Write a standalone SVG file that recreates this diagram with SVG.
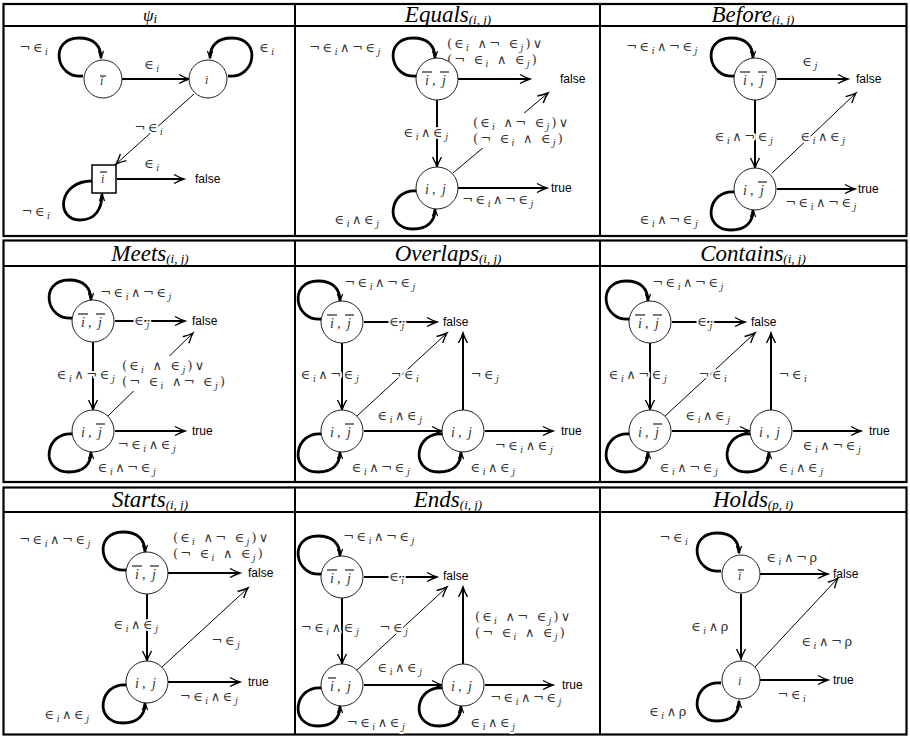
<svg xmlns="http://www.w3.org/2000/svg" xmlns:xlink="http://www.w3.org/1999/xlink" width="910" height="740" viewBox="0 0 910 740">
<style>
.tb{fill:none;stroke:#000;stroke-width:2.2}
.tl{stroke:#000;stroke-width:2}
.nd{fill:#fff;stroke:#222;stroke-width:1}
.e{fill:none;stroke:#000;stroke-width:2;marker-end:url(#ah)}
.et{fill:none;stroke:#000;stroke-width:1;marker-end:url(#ah)}
.lp{fill:none;stroke:#000;stroke-width:2.8;marker-end:url(#ahl)}
.l{font-family:"DejaVu Serif",serif;font-size:13px;fill:#333;stroke:#fff;stroke-width:4;paint-order:stroke;stroke-linejoin:round;text-anchor:middle;letter-spacing:2.5px}
.ls{text-anchor:start;letter-spacing:2.2px;word-spacing:0}
.s{font-style:italic;font-size:9px}
.n{font-family:"Liberation Serif",serif;font-style:italic;font-size:14px;fill:#333}
.ob{stroke:#333;stroke-width:1.3}
.tf{font-family:"Liberation Sans","DejaVu Sans",sans-serif;font-size:12px;fill:#000}
.hd{font-family:"Liberation Serif",serif;font-style:italic;font-size:23px;text-anchor:middle;fill:#000}
.hs{font-size:13px}
.wb{fill:#fff}
</style>
<defs>
<marker id="ah" markerUnits="userSpaceOnUse" viewBox="-11 -5 12 10" refX="0" refY="0" markerWidth="12" markerHeight="10" orient="auto" overflow="visible"><path d="M-10,-4.5 Q-4,-1.2 0,0 Q-4,1.2 -10,4.5" fill="none" stroke="#000" stroke-width="1.4"/></marker>
<marker id="ahl" markerUnits="userSpaceOnUse" viewBox="-8 -4 9 8" refX="0" refY="0" markerWidth="9" markerHeight="8" orient="auto" overflow="visible"><path d="M-7,-2.6 L0,0 L-7,2.6" fill="none" stroke="#000" stroke-width="1.2"/></marker>
<path id="lpT" class="lp" d="M-20,-3 C-48,0 -54,-41 -24,-41 C-9,-41 -2,-33 -2,-21"/>
<path id="lpB" class="lp" d="M-20,3 C-48,0 -54,41 -24,41 C-9,41 -2,33 -2,21"/>
<path id="lpR" class="lp" d="M20,-3 C48,0 54,-41 24,-41 C9,-41 2,-33 2,-21"/>
</defs>

<g id="tables">
<rect class="tb" x="3.5" y="4" width="903" height="232"/>
<line class="tl" x1="3.5" y1="26" x2="906.5" y2="26"/>
<line class="tl" x1="295" y1="4" x2="295" y2="236"/>
<line class="tl" x1="600" y1="4" x2="600" y2="236"/>
<rect class="tb" x="3.5" y="240.5" width="903" height="241.5"/>
<line class="tl" x1="3.5" y1="266" x2="906.5" y2="266"/>
<line class="tl" x1="295" y1="240.5" x2="295" y2="482"/>
<line class="tl" x1="600" y1="240.5" x2="600" y2="482"/>
<rect class="tb" x="3.5" y="487.5" width="903" height="247"/>
<line class="tl" x1="3.5" y1="512" x2="906.5" y2="512"/>
<line class="tl" x1="295" y1="487.5" x2="295" y2="734.5"/>
<line class="tl" x1="600" y1="487.5" x2="600" y2="734.5"/>
<text class="hd" x="150" y="21" style="font-size:17px">ψ<tspan class="hs" dy="2">i</tspan></text>
<text class="hd" x="448" y="22">Equals<tspan class="hs" dy="2">(i, j)</tspan></text>
<text class="hd" x="753" y="22">Before<tspan class="hs" dy="2">(i, j)</tspan></text>
<text class="hd" x="150" y="261">Meets<tspan class="hs" dy="2">(i, j)</tspan></text>
<text class="hd" x="448" y="261">Overlaps<tspan class="hs" dy="2">(i, j)</tspan></text>
<text class="hd" x="753" y="261">Contains<tspan class="hs" dy="2">(i, j)</tspan></text>
<text class="hd" x="150" y="507">Starts<tspan class="hs" dy="2">(i, j)</tspan></text>
<text class="hd" x="448" y="507">Ends<tspan class="hs" dy="2">(i, j)</tspan></text>
<text class="hd" x="753" y="507">Holds<tspan class="hs" dy="2">(p, i)</tspan></text>
</g>

<g id="connectors">
<!-- psi -->
<line class="e" x1="122" y1="79" x2="189" y2="79"/>
<use xlink:href="#lpT" x="103" y="79"/>
<use xlink:href="#lpR" x="208" y="79"/>
<line class="et" x1="194" y1="94" x2="116" y2="164"/>
<line class="e" x1="117" y1="179" x2="184" y2="179"/>
<path class="lp" d="M92,181 C58,181 55,220 80,220 C96,220 102,208 102,194"/>
<text class="l" x="153" y="69">∈<tspan class="s" dy="3">i</tspan></text>
<text class="l" x="35" y="52">¬∈<tspan class="s" dy="3">i</tspan></text>
<text class="l" x="268" y="52">∈<tspan class="s" dy="3">i</tspan></text>
<text class="l" x="150" y="132">¬∈<tspan class="s" dy="3">i</tspan></text>
<text class="l" x="153" y="168">∈<tspan class="s" dy="3">i</tspan></text>
<text class="l" x="37" y="216">¬∈<tspan class="s" dy="3">i</tspan></text>

<!-- equals -->
<use xlink:href="#lpT" x="437" y="79"/>
<line class="e" x1="458" y1="79" x2="530" y2="79"/>
<line class="e" x1="437" y1="100" x2="437" y2="167"/>
<line class="et" x1="453" y1="173" x2="548" y2="93"/>
<line class="e" x1="458" y1="188" x2="547" y2="188"/>
<use xlink:href="#lpB" x="437" y="188"/>
<text class="l" x="346" y="52">¬∈<tspan class="s" dy="3">i</tspan><tspan dy="-3">∧¬∈</tspan><tspan class="s" dy="3">j</tspan></text>
<text class="l ls" x="447" y="48">(∈<tspan class="s" dy="3">i</tspan><tspan dy="-3"> ∧¬ ∈</tspan><tspan class="s" dy="3">j</tspan><tspan dy="-3">)∨</tspan></text>
<text class="l ls" x="447" y="64">(¬ ∈<tspan class="s" dy="3">i</tspan><tspan dy="-3"> ∧ ∈</tspan><tspan class="s" dy="3">j</tspan><tspan dy="-3">)</tspan></text>
<text class="l" x="427" y="137">∈<tspan class="s" dy="3">i</tspan><tspan dy="-3">∧∈</tspan><tspan class="s" dy="3">j</tspan></text>
<rect class="wb" x="471" y="113" width="112" height="35"/>
<text class="l ls" x="473" y="127">(∈<tspan class="s" dy="3">i</tspan><tspan dy="-3"> ∧¬ ∈</tspan><tspan class="s" dy="3">j</tspan><tspan dy="-3">)∨</tspan></text>
<text class="l ls" x="473" y="143">(¬ ∈<tspan class="s" dy="3">i</tspan><tspan dy="-3"> ∧ ∈</tspan><tspan class="s" dy="3">j</tspan><tspan dy="-3">)</tspan></text>
<text class="l" x="499" y="204">¬∈<tspan class="s" dy="3">i</tspan><tspan dy="-3">∧¬∈</tspan><tspan class="s" dy="3">j</tspan></text>
<text class="l" x="358" y="224">∈<tspan class="s" dy="3">i</tspan><tspan dy="-3">∧∈</tspan><tspan class="s" dy="3">j</tspan></text>

<!-- before -->
<use xlink:href="#lpT" x="755" y="79"/>
<line class="e" x1="777" y1="79" x2="848" y2="79"/>
<line class="e" x1="755" y1="100" x2="755" y2="168"/>
<line class="et" x1="772" y1="173" x2="856" y2="93"/>
<line class="e" x1="777" y1="189" x2="855" y2="189"/>
<use xlink:href="#lpB" x="755" y="189"/>
<text class="l" x="663" y="51">¬∈<tspan class="s" dy="3">i</tspan><tspan dy="-3">∧¬∈</tspan><tspan class="s" dy="3">j</tspan></text>
<text class="l" x="811" y="66">∈<tspan class="s" dy="3">j</tspan></text>
<text class="l" x="745" y="141">∈<tspan class="s" dy="3">i</tspan><tspan dy="-3">∧¬∈</tspan><tspan class="s" dy="3">j</tspan></text>
<text class="l" x="824" y="141">∈<tspan class="s" dy="3">i</tspan><tspan dy="-3">∧∈</tspan><tspan class="s" dy="3">j</tspan></text>
<text class="l" x="822" y="207">¬∈<tspan class="s" dy="3">i</tspan><tspan dy="-3">∧¬∈</tspan><tspan class="s" dy="3">j</tspan></text>
<text class="l" x="670" y="224">∈<tspan class="s" dy="3">i</tspan><tspan dy="-3">∧¬∈</tspan><tspan class="s" dy="3">j</tspan></text>

<!-- meets -->
<use xlink:href="#lpT" x="93" y="321"/>
<line class="e" x1="115" y1="321" x2="185" y2="321"/>
<line class="e" x1="93" y1="342" x2="93" y2="410"/>
<line class="et" x1="108" y1="416" x2="193" y2="333"/>
<line class="e" x1="115" y1="431" x2="185" y2="431"/>
<use xlink:href="#lpB" x="93" y="431"/>
<text class="l" x="137" y="297">¬∈<tspan class="s" dy="3">i</tspan><tspan dy="-3">∧¬∈</tspan><tspan class="s" dy="3">j</tspan></text>
<text class="l" x="143" y="325">∈<tspan class="s" dy="3">j</tspan></text>
<text class="l" x="87" y="379">∈<tspan class="s" dy="3">i</tspan><tspan dy="-3">∧¬∈</tspan><tspan class="s" dy="3">j</tspan></text>
<rect class="wb" x="120" y="356" width="116" height="35"/>
<text class="l ls" x="122" y="370">(∈<tspan class="s" dy="3">i</tspan><tspan dy="-3"> ∧ ∈</tspan><tspan class="s" dy="3">j</tspan><tspan dy="-3">)∨</tspan></text>
<text class="l ls" x="122" y="386">(¬ ∈<tspan class="s" dy="3">i</tspan><tspan dy="-3"> ∧¬ ∈</tspan><tspan class="s" dy="3">j</tspan><tspan dy="-3">)</tspan></text>
<text class="l" x="148" y="449">¬∈<tspan class="s" dy="3">i</tspan><tspan dy="-3">∧∈</tspan><tspan class="s" dy="3">j</tspan></text>
<text class="l" x="128" y="472">∈<tspan class="s" dy="3">i</tspan><tspan dy="-3">∧¬∈</tspan><tspan class="s" dy="3">j</tspan></text>

<!-- overlaps -->
<use xlink:href="#lpT" x="342" y="322"/>
<line class="e" x1="364" y1="322" x2="437" y2="322"/>
<line class="e" x1="342" y1="343" x2="342" y2="410"/>
<line class="et" x1="357" y1="416" x2="447" y2="333"/>
<line class="e" x1="364" y1="431" x2="442" y2="431"/>
<line class="e" x1="463" y1="410" x2="463" y2="333"/>
<line class="e" x1="485" y1="431" x2="553" y2="431"/>
<use xlink:href="#lpB" x="342" y="431"/>
<use xlink:href="#lpB" x="463" y="431"/>
<text class="l" x="381" y="287">¬∈<tspan class="s" dy="3">i</tspan><tspan dy="-3">∧¬∈</tspan><tspan class="s" dy="3">j</tspan></text>
<text class="l" x="398" y="326">∈<tspan class="s" dy="3">j</tspan></text>
<text class="l" x="331" y="379">∈<tspan class="s" dy="3">i</tspan><tspan dy="-3">∧¬∈</tspan><tspan class="s" dy="3">j</tspan></text>
<text class="l" x="406" y="379">¬∈<tspan class="s" dy="3">i</tspan></text>
<text class="l" x="401" y="420">∈<tspan class="s" dy="3">i</tspan><tspan dy="-3">∧∈</tspan><tspan class="s" dy="3">j</tspan></text>
<text class="l" x="486" y="379">¬∈<tspan class="s" dy="3">j</tspan></text>
<text class="l" x="525" y="450">¬∈<tspan class="s" dy="3">i</tspan><tspan dy="-3">∧∈</tspan><tspan class="s" dy="3">j</tspan></text>
<text class="l" x="382" y="472">∈<tspan class="s" dy="3">i</tspan><tspan dy="-3">∧¬∈</tspan><tspan class="s" dy="3">j</tspan></text>
<text class="l" x="494" y="472">∈<tspan class="s" dy="3">i</tspan><tspan dy="-3">∧∈</tspan><tspan class="s" dy="3">j</tspan></text>

<!-- contains -->
<use xlink:href="#lpT" x="650" y="322"/>
<line class="e" x1="672" y1="322" x2="745" y2="322"/>
<line class="e" x1="650" y1="343" x2="650" y2="410"/>
<line class="et" x1="665" y1="416" x2="755" y2="333"/>
<line class="e" x1="672" y1="431" x2="750" y2="431"/>
<line class="e" x1="771" y1="410" x2="771" y2="333"/>
<line class="e" x1="793" y1="431" x2="861" y2="431"/>
<use xlink:href="#lpB" x="650" y="431"/>
<use xlink:href="#lpB" x="771" y="431"/>
<text class="l" x="689" y="287">¬∈<tspan class="s" dy="3">i</tspan><tspan dy="-3">∧¬∈</tspan><tspan class="s" dy="3">j</tspan></text>
<text class="l" x="706" y="326">∈<tspan class="s" dy="3">j</tspan></text>
<text class="l" x="639" y="379">∈<tspan class="s" dy="3">i</tspan><tspan dy="-3">∧¬∈</tspan><tspan class="s" dy="3">j</tspan></text>
<text class="l" x="714" y="379">¬∈<tspan class="s" dy="3">i</tspan></text>
<text class="l" x="709" y="420">∈<tspan class="s" dy="3">i</tspan><tspan dy="-3">∧∈</tspan><tspan class="s" dy="3">j</tspan></text>
<text class="l" x="794" y="379">¬∈<tspan class="s" dy="3">i</tspan></text>
<text class="l" x="833" y="450">∈<tspan class="s" dy="3">i</tspan><tspan dy="-3">∧¬∈</tspan><tspan class="s" dy="3">j</tspan></text>
<text class="l" x="690" y="472">∈<tspan class="s" dy="3">i</tspan><tspan dy="-3">∧¬∈</tspan><tspan class="s" dy="3">j</tspan></text>
<text class="l" x="802" y="472">∈<tspan class="s" dy="3">i</tspan><tspan dy="-3">∧∈</tspan><tspan class="s" dy="3">j</tspan></text>

<!-- starts -->
<use xlink:href="#lpT" x="147" y="573"/>
<line class="e" x1="168" y1="573" x2="240" y2="573"/>
<line class="e" x1="147" y1="594" x2="147" y2="661"/>
<line class="et" x1="162" y1="667" x2="248" y2="588"/>
<line class="e" x1="168" y1="682" x2="240" y2="682"/>
<use xlink:href="#lpB" x="147" y="682"/>
<text class="l" x="56" y="544">¬∈<tspan class="s" dy="3">i</tspan><tspan dy="-3">∧¬∈</tspan><tspan class="s" dy="3">j</tspan></text>
<text class="l ls" x="173" y="542">(∈<tspan class="s" dy="3">i</tspan><tspan dy="-3"> ∧¬ ∈</tspan><tspan class="s" dy="3">j</tspan><tspan dy="-3">)∨</tspan></text>
<text class="l ls" x="173" y="558">(¬ ∈<tspan class="s" dy="3">i</tspan><tspan dy="-3"> ∧ ∈</tspan><tspan class="s" dy="3">j</tspan><tspan dy="-3">)</tspan></text>
<text class="l" x="137" y="629">∈<tspan class="s" dy="3">i</tspan><tspan dy="-3">∧∈</tspan><tspan class="s" dy="3">j</tspan></text>
<text class="l" x="227" y="645">¬∈<tspan class="s" dy="3">j</tspan></text>
<text class="l" x="210" y="701">¬∈<tspan class="s" dy="3">i</tspan><tspan dy="-3">∧∈</tspan><tspan class="s" dy="3">j</tspan></text>
<text class="l" x="68" y="719">∈<tspan class="s" dy="3">i</tspan><tspan dy="-3">∧∈</tspan><tspan class="s" dy="3">j</tspan></text>

<!-- ends -->
<use xlink:href="#lpT" x="342" y="577"/>
<line class="e" x1="364" y1="577" x2="437" y2="577"/>
<line class="e" x1="342" y1="598" x2="342" y2="664"/>
<line class="et" x1="357" y1="670" x2="447" y2="587"/>
<line class="e" x1="364" y1="685" x2="442" y2="685"/>
<line class="e" x1="463" y1="664" x2="463" y2="587"/>
<line class="e" x1="485" y1="685" x2="553" y2="685"/>
<use xlink:href="#lpB" x="342" y="685"/>
<use xlink:href="#lpB" x="463" y="685"/>
<text class="l" x="380" y="541">¬∈<tspan class="s" dy="3">i</tspan><tspan dy="-3">∧¬∈</tspan><tspan class="s" dy="3">j</tspan></text>
<text class="l" x="398" y="581">∈<tspan class="s" dy="3">i</tspan></text>
<text class="l" x="331" y="632">¬∈<tspan class="s" dy="3">i</tspan><tspan dy="-3">∧∈</tspan><tspan class="s" dy="3">j</tspan></text>
<text class="l" x="395" y="632">¬∈<tspan class="s" dy="3">j</tspan></text>
<text class="l" x="401" y="672">∈<tspan class="s" dy="3">i</tspan><tspan dy="-3">∧∈</tspan><tspan class="s" dy="3">j</tspan></text>
<text class="l ls" x="475" y="621">(∈<tspan class="s" dy="3">i</tspan><tspan dy="-3"> ∧¬ ∈</tspan><tspan class="s" dy="3">j</tspan><tspan dy="-3">)∨</tspan></text>
<text class="l ls" x="475" y="637">(¬ ∈<tspan class="s" dy="3">i</tspan><tspan dy="-3"> ∧ ∈</tspan><tspan class="s" dy="3">j</tspan><tspan dy="-3">)</tspan></text>
<text class="l" x="527" y="702">¬∈<tspan class="s" dy="3">i</tspan><tspan dy="-3">∧¬∈</tspan><tspan class="s" dy="3">j</tspan></text>
<text class="l" x="377" y="727">¬∈<tspan class="s" dy="3">i</tspan><tspan dy="-3">∧∈</tspan><tspan class="s" dy="3">j</tspan></text>
<text class="l" x="494" y="727">∈<tspan class="s" dy="3">i</tspan><tspan dy="-3">∧∈</tspan><tspan class="s" dy="3">j</tspan></text>

<!-- holds -->
<use xlink:href="#lpT" x="741" y="574"/>
<line class="e" x1="760" y1="574" x2="828" y2="574"/>
<line class="e" x1="741" y1="594" x2="741" y2="659"/>
<line class="et" x1="755" y1="667" x2="838" y2="578"/>
<line class="e" x1="760" y1="680" x2="828" y2="680"/>
<use xlink:href="#lpB" x="741" y="680"/>
<text class="l" x="675" y="542">¬∈<tspan class="s" dy="3">i</tspan></text>
<text class="l" x="793" y="562">∈<tspan class="s" dy="3">i</tspan><tspan dy="-3">∧¬ρ</tspan></text>
<text class="l" x="711" y="631">∈<tspan class="s" dy="3">i</tspan><tspan dy="-3">∧ρ</tspan></text>
<text class="l" x="828" y="646">∈<tspan class="s" dy="3">i</tspan><tspan dy="-3">∧¬ρ</tspan></text>
<text class="l" x="793" y="699">¬∈<tspan class="s" dy="3">i</tspan></text>
<text class="l" x="669" y="716">∈<tspan class="s" dy="3">i</tspan><tspan dy="-3">∧ρ</tspan></text>
</g>

<!-- nodes -->
<g id="psi-nbar"><circle class="nd" cx="103" cy="79" r="19"/><text class="n" x="100" y="85" style="font-size:12px">i</text><line class="ob" x1="100" y1="76" x2="106" y2="76"/></g>
<g id="psi-n"><circle class="nd" cx="208" cy="79" r="19"/><text class="n" x="205" y="84" style="font-size:12px">i</text></g>
<g id="psi-sq"><rect class="nd" x="92" y="165" width="24" height="28" style="stroke:#000;stroke-width:1.5"/><text class="n" x="101" y="183" style="font-size:12px">i</text><line class="ob" x1="100" y1="172" x2="107" y2="172"/></g>
<g id="psi-false"><text class="tf" x="195" y="183">false</text></g>

<g id="eq-nn"><circle class="nd" cx="437" cy="79" r="21"/><text class="n" x="425" y="85">i<tspan x="432">,</tspan><tspan x="442">j</tspan></text><line class="ob" x1="422" y1="72" x2="432" y2="72"/><line class="ob" x1="440" y1="72" x2="449" y2="72"/></g>
<g id="eq-ij"><circle class="nd" cx="437" cy="188" r="21"/><text class="n" x="425" y="194">i<tspan x="432">,</tspan><tspan x="442">j</tspan></text></g>
<g id="eq-false"><text class="tf" x="560" y="83">false</text></g>
<g id="eq-true"><text class="tf" x="551" y="192">true</text></g>

<g id="bf-nn"><circle class="nd" cx="755" cy="79" r="21"/><text class="n" x="743" y="85">i<tspan x="750">,</tspan><tspan x="760">j</tspan></text><line class="ob" x1="740" y1="72" x2="750" y2="72"/><line class="ob" x1="758" y1="72" x2="767" y2="72"/></g>
<g id="bf-inj"><circle class="nd" cx="755" cy="189" r="21"/><text class="n" x="743" y="195">i<tspan x="750">,</tspan><tspan x="760">j</tspan></text><line class="ob" x1="758" y1="182" x2="767" y2="182"/></g>
<g id="bf-false"><text class="tf" x="856" y="83">false</text></g>
<g id="bf-true"><text class="tf" x="858" y="193">true</text></g>

<g id="mt-nn"><circle class="nd" cx="93" cy="321" r="21"/><text class="n" x="81" y="327">i<tspan x="88">,</tspan><tspan x="98">j</tspan></text><line class="ob" x1="78" y1="314" x2="88" y2="314"/><line class="ob" x1="96" y1="314" x2="105" y2="314"/></g>
<g id="mt-inj"><circle class="nd" cx="93" cy="431" r="21"/><text class="n" x="81" y="437">i<tspan x="88">,</tspan><tspan x="98">j</tspan></text><line class="ob" x1="96" y1="424" x2="105" y2="424"/></g>
<g id="mt-false"><text class="tf" x="192" y="325">false</text></g>
<g id="mt-true"><text class="tf" x="192" y="435">true</text></g>

<g id="ov-nn"><circle class="nd" cx="342" cy="322" r="21"/><text class="n" x="330" y="328">i<tspan x="337">,</tspan><tspan x="347">j</tspan></text><line class="ob" x1="327" y1="315" x2="337" y2="315"/><line class="ob" x1="345" y1="315" x2="354" y2="315"/></g>
<g id="ov-inj"><circle class="nd" cx="342" cy="431" r="21"/><text class="n" x="330" y="437">i<tspan x="337">,</tspan><tspan x="347">j</tspan></text><line class="ob" x1="345" y1="424" x2="354" y2="424"/></g>
<g id="ov-ij"><circle class="nd" cx="463" cy="431" r="21"/><text class="n" x="451" y="437">i<tspan x="458">,</tspan><tspan x="468">j</tspan></text></g>
<g id="ov-false"><text class="tf" x="443" y="326">false</text></g>
<g id="ov-true"><text class="tf" x="561" y="435">true</text></g>

<g id="ct-nn"><circle class="nd" cx="650" cy="322" r="21"/><text class="n" x="638" y="328">i<tspan x="645">,</tspan><tspan x="655">j</tspan></text><line class="ob" x1="635" y1="315" x2="645" y2="315"/><line class="ob" x1="653" y1="315" x2="662" y2="315"/></g>
<g id="ct-inj"><circle class="nd" cx="650" cy="431" r="21"/><text class="n" x="638" y="437">i<tspan x="645">,</tspan><tspan x="655">j</tspan></text><line class="ob" x1="653" y1="424" x2="662" y2="424"/></g>
<g id="ct-ij"><circle class="nd" cx="771" cy="431" r="21"/><text class="n" x="759" y="437">i<tspan x="766">,</tspan><tspan x="776">j</tspan></text></g>
<g id="ct-false"><text class="tf" x="751" y="326">false</text></g>
<g id="ct-true"><text class="tf" x="869" y="435">true</text></g>

<g id="st-nn"><circle class="nd" cx="147" cy="573" r="21"/><text class="n" x="135" y="579">i<tspan x="142">,</tspan><tspan x="152">j</tspan></text><line class="ob" x1="132" y1="566" x2="142" y2="566"/><line class="ob" x1="150" y1="566" x2="159" y2="566"/></g>
<g id="st-ij"><circle class="nd" cx="147" cy="682" r="21"/><text class="n" x="135" y="688">i<tspan x="142">,</tspan><tspan x="152">j</tspan></text></g>
<g id="st-false"><text class="tf" x="248" y="577">false</text></g>
<g id="st-true"><text class="tf" x="248" y="686">true</text></g>

<g id="en-nn"><circle class="nd" cx="342" cy="577" r="21"/><text class="n" x="330" y="583">i<tspan x="337">,</tspan><tspan x="347">j</tspan></text><line class="ob" x1="327" y1="570" x2="337" y2="570"/><line class="ob" x1="345" y1="570" x2="354" y2="570"/></g>
<g id="en-nij"><circle class="nd" cx="342" cy="685" r="21"/><text class="n" x="330" y="691">i<tspan x="337">,</tspan><tspan x="347">j</tspan></text><line class="ob" x1="328" y1="678" x2="336" y2="678"/></g>
<g id="en-ij"><circle class="nd" cx="463" cy="685" r="21"/><text class="n" x="451" y="691">i<tspan x="458">,</tspan><tspan x="468">j</tspan></text></g>
<g id="en-false"><text class="tf" x="443" y="580">false</text></g>
<g id="en-true"><text class="tf" x="562" y="689">true</text></g>

<g id="hd-n"><circle class="nd" cx="741" cy="574" r="19"/><text class="n" x="738" y="580" style="font-size:12px">i</text><line class="ob" x1="738" y1="570" x2="744" y2="570"/></g>
<g id="hd-i"><circle class="nd" cx="741" cy="680" r="19"/><text class="n" x="738" y="685" style="font-size:12px">i</text></g>
<g id="hd-false"><text class="tf" x="833" y="578">false</text></g>
<g id="hd-true"><text class="tf" x="833" y="684">true</text></g>
</svg>
